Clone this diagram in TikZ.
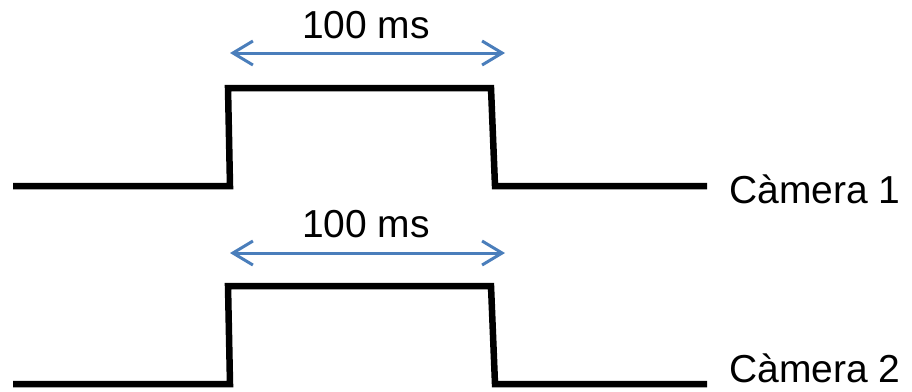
\documentclass[tikz,border=0pt]{standalone}
\usepackage{fontspec}
\setmainfont{Liberation Sans}
\usepackage{xcolor}
\usetikzlibrary{arrows.meta}
\definecolor{spanblue}{RGB}{74,126,187}

\tikzset{
  signal/.style={line width=6.5pt, line join=miter, black},
  span/.style={line width=3pt, spanblue, {Straight Barb[length=20pt,width=24pt]}-{Straight Barb[length=20pt,width=24pt]}},
  lbl/.style={inner sep=0pt, text depth=0pt, font=\fontsize{39}{39}\selectfont}
}

\begin{document}
\begin{tikzpicture}[x=1pt,y=-1pt]
  \useasboundingbox (0,0) rectangle (912,391);
  % camera 1
  \coordinate (a0) at (13,186);
  \coordinate (a1) at (230,186);
  \coordinate (a2) at (228,88);
  \coordinate (a3) at (491,88);
  \coordinate (a4) at (495,186);
  \coordinate (a5) at (707,186);
  \draw[signal] (a0) -- (a1) -- (a2) -- (a3) -- (a4) -- (a5);
  \coordinate (s1l) at (230,53);
  \coordinate (s1r) at (505,53);
  \draw[span] (s1l) -- (s1r);
  \node[lbl,anchor=base] (t1) at (366,38) {100 ms};
  \node[lbl,anchor=base west] (c1) at (729,203) {Càmera 1};
  % camera 2
  \coordinate (b0) at (13,384);
  \coordinate (b1) at (230,384);
  \coordinate (b2) at (228,286);
  \coordinate (b3) at (491,286);
  \coordinate (b4) at (495,384);
  \coordinate (b5) at (707,384);
  \draw[signal] (b0) -- (b1) -- (b2) -- (b3) -- (b4) -- (b5);
  \coordinate (s2l) at (230,253);
  \coordinate (s2r) at (505,253);
  \draw[span] (s2l) -- (s2r);
  \node[lbl,anchor=base] (t2) at (366,237) {100 ms};
  \node[lbl,anchor=base west] (c2) at (729,382) {Càmera 2};
\end{tikzpicture}
\end{document}
